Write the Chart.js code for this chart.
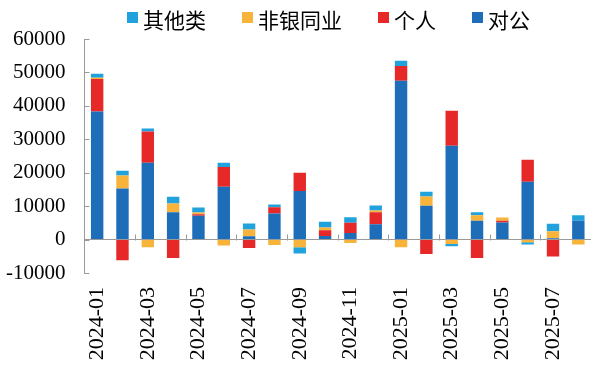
<!DOCTYPE html>
<html>
<head>
<meta charset="utf-8">
<script src="https://cdn.jsdelivr.net/npm/chart.js@4.4.1/dist/chart.umd.min.js"></script>
<style>
  body { margin: 0; background: #fff; }
  #wrap { position: relative; width: 600px; height: 370px; }
  #legend { position: absolute; top: 6px; left: 127px; display: flex; align-items: center;
    font-family: "Noto Sans CJK SC", sans-serif; font-size: 21px; line-height: 26px; color: #000; }
  .item { display: flex; align-items: center; margin-right: 36px; }
  .box { width: 11px; height: 11px; margin-right: 5px; position: relative; top: -2px; }
</style>
</head>
<body>
<div id="wrap">
  <canvas id="chart" width="600" height="370"></canvas>
  <div id="legend"></div>
</div>
<script>
// months 2024-01 .. 2025-08
const months = ["2024-01","2024-02","2024-03","2024-04","2024-05","2024-06","2024-07","2024-08","2024-09","2024-10","2024-11","2024-12",
                "2025-01","2025-02","2025-03","2025-04","2025-05","2025-06","2025-07","2025-08"];

const corporate = [38300,15300,23000,8200,7100,15800,1000,7800,14500,1100,2000,4600,47500,10100,28100,5600,5100,17300,400,5600];
const personal  = [9700,-6200,9300,-5500,500,5900,-2500,1900,5500,1700,3000,3600,4400,-4300,10400,-5500,500,6600,-5100,0];
const nonbank   = [400,3900,-2300,2600,500,-1800,2000,-1600,-2300,800,-1000,500,-2300,2800,-1300,1700,1000,-800,2100,-1500];
const others    = [1200,1400,900,2000,1500,1300,1800,800,-1900,1700,1700,1500,1600,1400,-700,900,0,-700,2200,1700];

const yTicks = { min: -10000, max: 60000, step: 10000 };

const axisColor = "#9a9a9a";
const serif = "'Liberation Serif', 'Times New Roman', serif";

// bottom of stack first
const series = [
  { label: "对公", data: corporate, color: "#1d6db8" },
  { label: "个人", data: personal, color: "#e62829" },
  { label: "非银同业", data: nonbank, color: "#f7b33a" },
  { label: "其他类", data: others, color: "#21a2dc" },
];

// legend is shown top-of-stack first
document.getElementById("legend").innerHTML = series.slice().reverse()
  .map(s => `<div class="item"><span class="box" style="background:${s.color}"></span>${s.label}</div>`)
  .join("");

// small inward ticks on y axis, upward ticks on the zero line every 2 months
const tickMarks = {
  id: "tickMarks",
  afterDraw(chart) {
    const { ctx, scales: { x, y } } = chart;
    ctx.save();
    ctx.strokeStyle = axisColor;
    ctx.lineWidth = 1;
    ctx.beginPath();
    y.ticks.forEach((t, i) => {
      const py = Math.round(y.getPixelForTick(i)) + 0.5;
      ctx.moveTo(x.left, py);
      ctx.lineTo(x.left + 5, py);
    });
    const y0 = Math.round(y.getPixelForValue(0)) + 0.5;
    for (let i = 2; i < months.length; i += 2) {
      const px = Math.round((x.getPixelForTick(i - 1) + x.getPixelForTick(i)) / 2) + 0.5;
      ctx.moveTo(px, y0);
      ctx.lineTo(px, y0 - 6);
    }
    ctx.stroke();
    ctx.restore();
  }
};

new Chart(document.getElementById("chart"), {
  type: "bar",
  data: {
    labels: months,
    datasets: series.map(s => ({
      label: s.label,
      data: s.data,
      backgroundColor: s.color,
      borderWidth: 0,
      barPercentage: 0.49,
      categoryPercentage: 1,
    })),
  },
  options: {
    responsive: false,
    animation: false,
    devicePixelRatio: 1,
    layout: { padding: { left: -13, right: 9, top: 39, bottom: 10 } },
    plugins: { legend: { display: false }, tooltip: { enabled: false } },
    scales: {
      x: {
        stacked: true,
        grid: { display: false },
        border: { display: false },
        afterFit: s => { s.height = 87; s.paddingRight = 0; },
        ticks: {
          autoSkip: false,
          minRotation: 90,
          maxRotation: 90,
          padding: 6,
          color: "#000",
          font: { family: serif, size: 22 },
          callback: (v, i) => (i % 2 === 0 ? months[i] : ""),
        },
      },
      y: {
        stacked: true,
        min: yTicks.min,
        max: yTicks.max,
        grid: {
          drawTicks: false,
          color: c => (c.tick && c.tick.value === 0 ? axisColor : "transparent"),
        },
        border: { color: axisColor },
        ticks: {
          stepSize: yTicks.step,
          padding: 19,
          color: "#000",
          font: { family: serif, size: 21 },
          callback: v => String(v),
        },
      },
    },
  },
  plugins: [tickMarks],
});
</script>
</body>
</html>
